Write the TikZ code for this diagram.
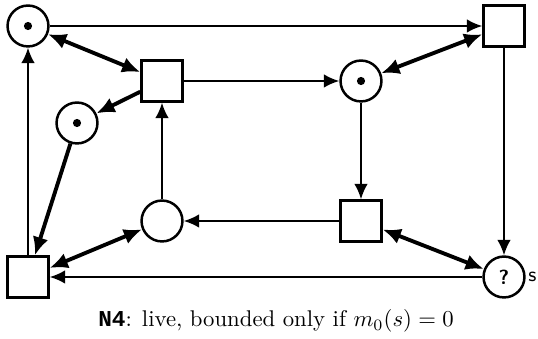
\documentclass[tikz,border=0pt]{standalone}
\usepackage{fontspec}
\newfontfamily\capmono{Liberation Mono}
\usetikzlibrary{arrows.meta}
\begin{document}
\begin{tikzpicture}[x=0.44pt, y=-0.44pt, >={Latex[length=6.8pt,width=6pt]}]
        \tikzstyle{place}=[draw, circle, line width=1.1pt, minimum size=18pt, inner sep=0pt]
        \tikzstyle{trans}=[draw, rectangle, line width=1.1pt, minimum size=18pt, inner sep=0pt]
        \tikzstyle{token}=[path picture={\fill (path picture bounding box.center) circle (1.8pt);}]
        \tikzstyle{arc}=[line width=0.9pt, ->]
        \tikzstyle{heavy}=[line width=1.7pt, >={Latex[length=8pt,width=7pt]}, ->]
        \useasboundingbox (0,0) rectangle (538,339);

        \node[place, token] (p1) at (28,26) {};
        \node[place, token] (p2) at (77,123) {};
        \node[place, token] (p3) at (361,81) {};
        \node[place] (p4) at (162,221) {};
        \node[place, font=\sffamily\bfseries\small] (s) at (504,277) {?};
        \node[font=\sffamily\small, anchor=west, inner sep=1pt] (slabel) at (s.east) {s};

        \node[trans] (t1) at (162,81) {};
        \node[trans] (t2) at (504,26) {};
        \node[trans] (t3) at (361,221) {};
        \node[trans] (t4) at (28,277) {};

        \draw[arc] (p1) -- (t2);
        \draw[arc] (t1) -- (p3);
        \draw[arc] (t2) -- (s);
        \draw[arc] (p3) -- (t3);
        \draw[arc] (t3) -- (p4);
        \draw[arc] (p4) -- (t1);
        \draw[arc] (t4) -- (p1);
        \draw[arc] (s) -- (t4);

        \draw[heavy, <->] (p1) -- (t1);
        \draw[heavy, <->] (t2) -- (p3);
        \draw[heavy, <->] (p4) -- (t4);
        \draw[heavy, <->] (t3) -- (s);
        \draw[heavy] (t1) -- (p2);
        \draw[heavy] (p2) -- (t4);

        \node[anchor=base] (caption) at (276,327) {{\capmono\bfseries N4}: live, bounded only if $m_0(s) = 0$};
    \end{tikzpicture}
\end{document}
